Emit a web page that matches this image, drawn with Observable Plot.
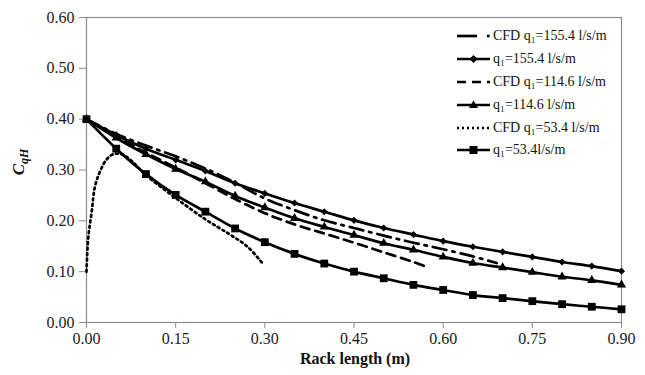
<!DOCTYPE html>
<html><head><meta charset="utf-8">
<script src="https://cdn.jsdelivr.net/npm/d3@7"></script>
<script src="https://cdn.jsdelivr.net/npm/@observablehq/plot@0.6"></script>
<style>
body{margin:0;background:#fff;}
#wrap{position:relative;width:645px;height:375px;font-family:"Liberation Serif","Times New Roman",serif;}
#legend{position:absolute;left:455px;top:25px;font-size:14px;color:#111;font-family:"Liberation Serif","Times New Roman",serif;}
#legend .row{height:22.8px;display:flex;align-items:center;white-space:nowrap;}
#legend svg{display:block;margin-right:2px;}
</style></head><body><div id="wrap"></div>
<script>
// Measured data (x every 0.05 m)
const xMeasured = [0,0.05,0.10,0.15,0.20,0.25,0.30,0.35,0.40,0.45,0.50,0.55,0.60,0.65,0.70,0.75,0.80,0.85,0.90];
const q155 = [0.400,0.369,0.342,0.320,0.298,0.274,0.254,0.235,0.218,0.201,0.186,0.173,0.160,0.149,0.139,0.129,0.119,0.111,0.101];
const q114 = [0.400,0.363,0.331,0.302,0.277,0.249,0.226,0.205,0.188,0.172,0.156,0.143,0.129,0.117,0.108,0.099,0.090,0.083,0.074];
const q53  = [0.400,0.342,0.292,0.251,0.218,0.185,0.158,0.135,0.116,0.100,0.087,0.074,0.064,0.054,0.048,0.042,0.036,0.031,0.026];
// CFD curves
const cfd155X = [0,0.05,0.10,0.15,0.20,0.25,0.30,0.35,0.40,0.45,0.50,0.55,0.60,0.65,0.69];
const cfd155Y = [0.400,0.371,0.348,0.327,0.303,0.275,0.244,0.221,0.201,0.186,0.171,0.157,0.144,0.130,0.117];
const cfd114X = [0,0.05,0.10,0.15,0.20,0.25,0.30,0.35,0.40,0.45,0.50,0.55,0.575];
const cfd114Y = [0.400,0.366,0.334,0.305,0.274,0.243,0.215,0.193,0.175,0.157,0.138,0.119,0.108];
const cfd53X = [0,0.003,0.009,0.014,0.023,0.034,0.045,0.059,0.073,0.10,0.15,0.20,0.24,0.27,0.295];
const cfd53Y = [0.100,0.167,0.220,0.266,0.298,0.321,0.331,0.331,0.321,0.290,0.245,0.203,0.174,0.150,0.118];
// Labels and ticks
const legendLabels = ["CFD q\u2081=155.4 l/s/m","q\u2081=155.4 l/s/m","CFD q\u2081=114.6 l/s/m","q\u2081=114.6 l/s/m","CFD q\u2081=53.4 l/s/m","q\u2081=53.4l/s/m"];
const xTicks = [0,0.15,0.30,0.45,0.60,0.75,0.90];
const yTicks = [0,0.10,0.20,0.30,0.40,0.50,0.60];
const xTitle = "Rack length (m)";

const toRows = (xs, ys) => xs.map((x, i) => ({x, y: ys[i]}));
const m155 = toRows(xMeasured, q155), m114 = toRows(xMeasured, q114), m53 = toRows(xMeasured, q53);
const c155 = toRows(cfd155X, cfd155Y), c114 = toRows(cfd114X, cfd114Y), c53 = toRows(cfd53X, cfd53Y);

const fmt = d3.format(".2f");
const lw = 2.7;
const plot = Plot.plot({
  width: 645, height: 375,
  marginLeft: 86, marginRight: 24, marginTop: 17, marginBottom: 53,
  style: {fontFamily: "'Liberation Serif', 'Times New Roman', serif", fontSize: "16px", color: "#1a1a1a", background: "white", overflow: "visible"},
  x: {domain: [0, 0.9], label: null},
  y: {domain: [0, 0.6], label: null},
  marks: [
    Plot.frame({stroke: "#8c8c8c", strokeWidth: 1.2}),
    Plot.axisX({ticks: xTicks, tickFormat: fmt, tickSize: 6, tickPadding: 4, stroke: "#8c8c8c", label: null}),
    Plot.axisY({ticks: yTicks, tickFormat: fmt, tickSize: 7, tickPadding: 5, stroke: "#8c8c8c", label: null}),
    Plot.line(c155, {x: "x", y: "y", stroke: "black", strokeWidth: lw, curve: "catmull-rom", strokeDasharray: "14,6,2.5,6"}),
    Plot.line(c114, {x: "x", y: "y", stroke: "black", strokeWidth: lw, curve: "catmull-rom", strokeDasharray: "9,6"}),
    Plot.line(c53, {x: "x", y: "y", stroke: "black", strokeWidth: lw, curve: "catmull-rom", strokeDasharray: "2,3.5"}),
    Plot.line(m155, {x: "x", y: "y", stroke: "black", strokeWidth: lw, curve: "catmull-rom"}),
    Plot.line(m114, {x: "x", y: "y", stroke: "black", strokeWidth: lw, curve: "catmull-rom"}),
    Plot.line(m53, {x: "x", y: "y", stroke: "black", strokeWidth: lw, curve: "catmull-rom"}),
    Plot.dot(m155, {x: "x", y: "y", symbol: "diamond2", r: 3.2, fill: "black", stroke: "none"}),
    Plot.dot(m114, {x: "x", y: "y", symbol: "triangle", r: 3.4, fill: "black", stroke: "none"}),
    Plot.dot(m53, {x: "x", y: "y", symbol: "square", r: 4.4, fill: "black", stroke: "none"})
  ]
});
const wrap = document.getElementById("wrap");
wrap.appendChild(plot);

const svg = d3.select(plot);
svg.append("text")
  .attr("x", 355).attr("y", 364)
  .attr("text-anchor", "middle")
  .style("font-weight", "bold").style("font-size", "16px").attr("fill", "#111")
  .text(xTitle);
const yt = svg.append("text")
  .attr("transform", "translate(24,162) rotate(-90)")
  .attr("text-anchor", "middle")
  .style("font-weight", "bold").style("font-style", "italic").style("font-size", "17px").attr("fill", "#111");
yt.append("tspan").text("C");
yt.append("tspan").attr("dy", 4).style("font-size", "12px").text("qH");

// Legend
const legendStyles = [
  {dash: "13,6", dot: true, sym: null},
  {dash: null, sym: "diamond"},
  {dash: "9,6", sym: null},
  {dash: null, sym: "triangle"},
  {dash: "2,3", sym: null},
  {dash: null, sym: "square"}
];
const leg = d3.select(wrap).append("div").attr("id", "legend");
legendLabels.forEach((lab, i) => {
  const st = legendStyles[i];
  const row = leg.append("div").attr("class", "row");
  const s = row.append("svg").attr("width", 36).attr("height", 22);
  if (st.dot) {
    s.append("line").attr("x1", 2).attr("x2", 22).attr("y1", 11).attr("y2", 11).attr("stroke", "black").attr("stroke-width", lw);
    s.append("rect").attr("x", 32).attr("y", 9.7).attr("width", 2.6).attr("height", 2.6).attr("fill", "black");
  } else {
    const l = s.append("line").attr("x1", 2).attr("x2", 35).attr("y1", 11).attr("y2", 11).attr("stroke", "black").attr("stroke-width", lw);
    if (st.dash) l.attr("stroke-dasharray", st.dash);
  }
  if (st.sym === "diamond") s.append("path").attr("d", "M18.5,7 L22.5,11 L18.5,15 L14.5,11 Z").attr("fill", "black");
  if (st.sym === "triangle") s.append("path").attr("d", "M18.5,6.5 L23,14 L14,14 Z").attr("fill", "black");
  if (st.sym === "square") s.append("rect").attr("x", 14.5).attr("y", 7).attr("width", 8).attr("height", 8).attr("fill", "black");
  row.append("span").text(lab);
});
</script></body></html>
